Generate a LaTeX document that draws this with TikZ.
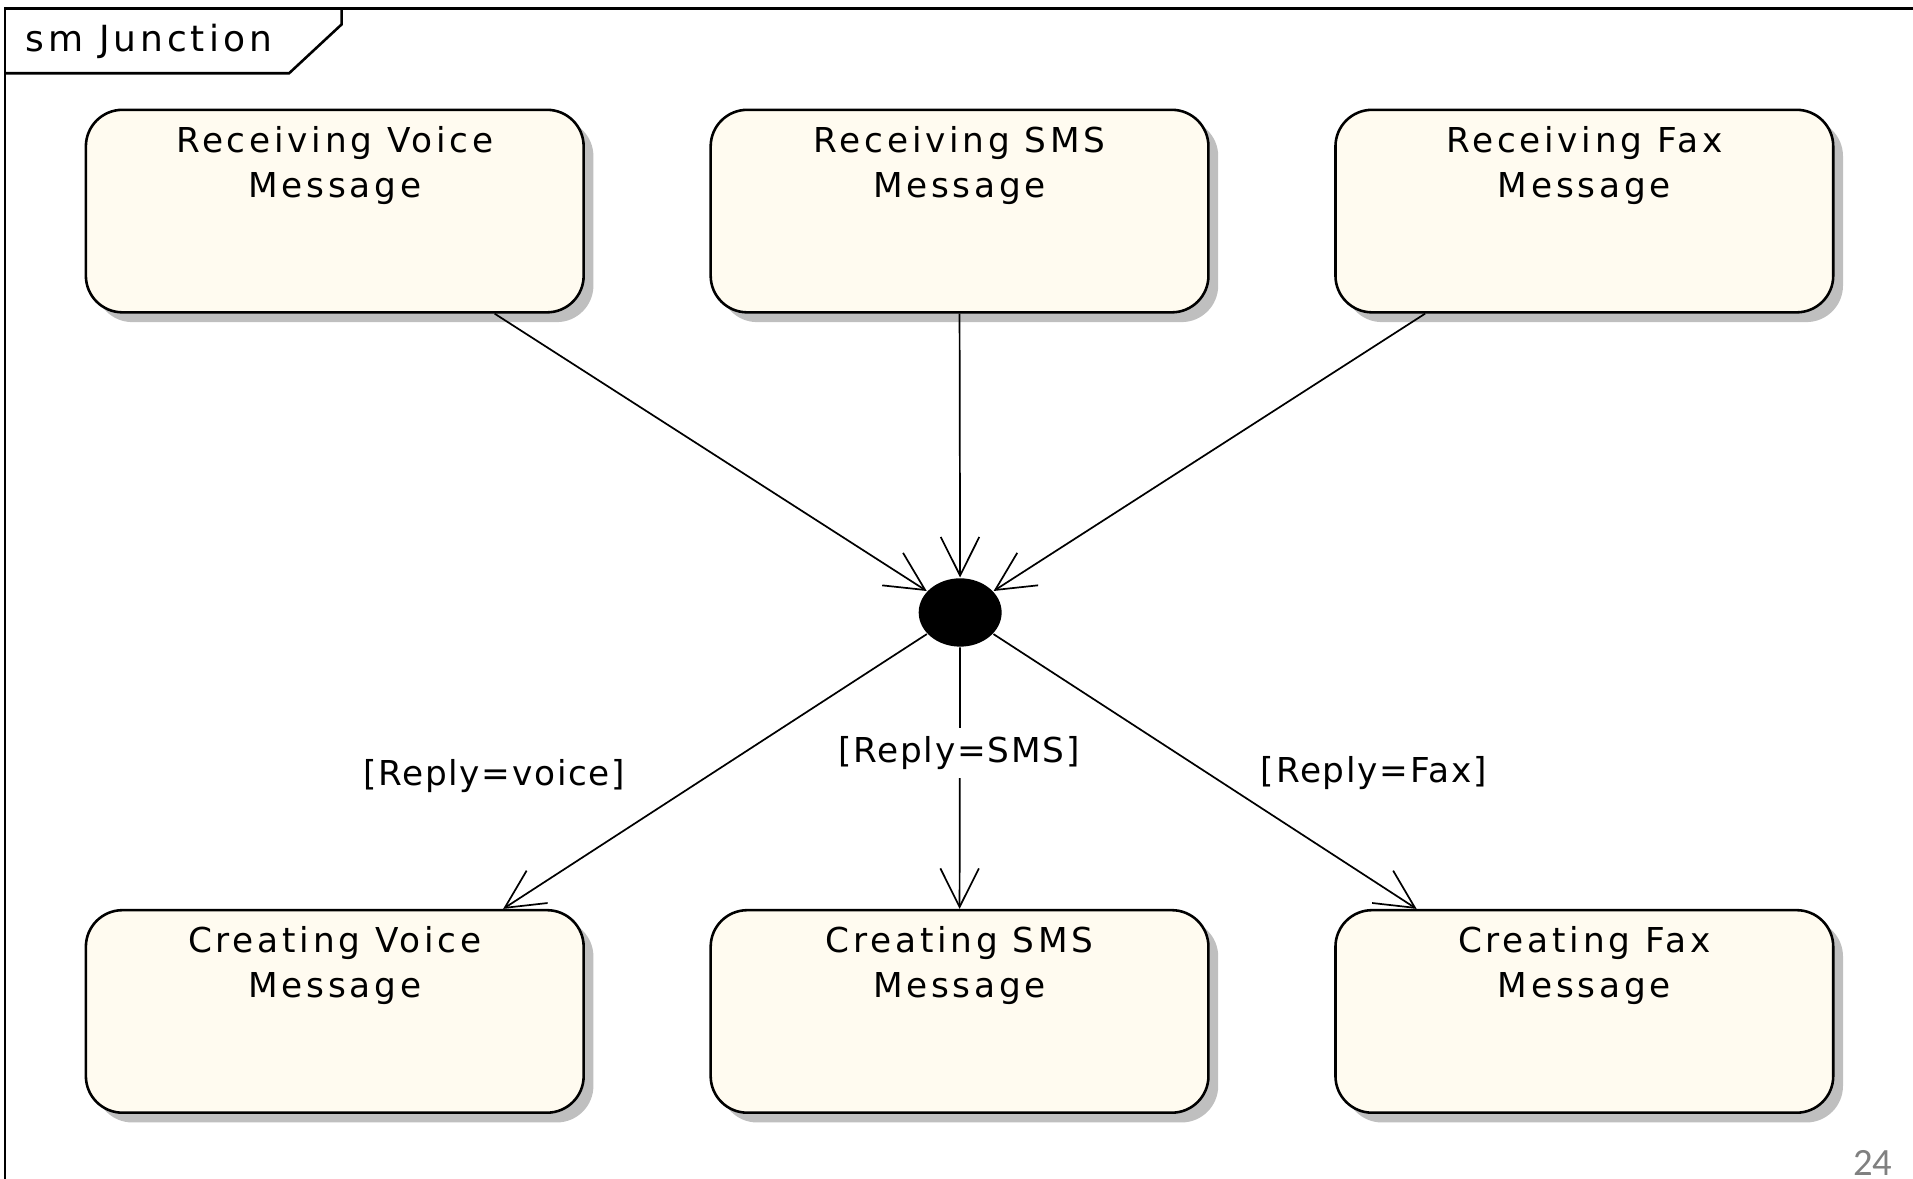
\documentclass[tikz,border=0pt]{standalone}
\usepackage{fontspec}
\usepackage{tikz}
\usetikzlibrary{arrows.meta}
\usetikzlibrary{positioning,shapes.geometric,shadows}
\tikzset{>={Straight Barb[length=9pt,width=9pt]}}
\usepackage{xcolor}
\newfontfamily\umlfont[LetterSpace=11]{DejaVu Sans}
\newfontfamily\guardfont[LetterSpace=5]{DejaVu Sans}
\newfontfamily\slidefont{Carlito}
\definecolor{statefill}{RGB}{255,251,240}
\colorlet{stateshadow}{black!25}

\begin{document}
\begin{tikzpicture}[
    state/.style={draw, line width=0.6pt, fill=statefill, rounded corners=0.3cm,
      minimum width=4.08cm, minimum height=1.66cm, inner sep=0pt,
      drop shadow={shadow xshift=0.08cm, shadow yshift=-0.08cm, fill=stateshadow, opacity=1}},
    statetext/.style={align=center, inner sep=0pt, font=\fontsize{8pt}{10.5pt}\umlfont},
    junction/.style={ellipse, fill=black, minimum width=0.68cm, minimum height=0.56cm, inner sep=0pt},
    trans/.style={->, line width=0.4pt},
    guard/.style={inner sep=2pt, font=\fontsize{8pt}{10pt}\guardfont},
  ]
        \useasboundingbox (0,0) rectangle (15.68,-9.66);

        % FRAME
        \draw[line width=0.6pt] (0.04,-9.66) |- (15.68,-0.07);
        \draw[line width=0.6pt] (0.04,-0.60) -- (2.37,-0.60) -- (2.80,-0.20) -- (2.80,-0.07);
        \node[statetext, font=\fontsize{8.4pt}{10pt}\umlfont] (frame-t) at (1.22,-0.34) {sm Junction};

        % STATES
        \node[state] (rs) at (7.865,-1.73) {};
        \node[state, left=1.02cm of rs] (rv) {};
        \node[state, right=1.02cm of rs] (rf) {};
        \node[state] (cs) at (7.865,-8.29) {};
        \node[state, left=1.02cm of cs] (cv) {};
        \node[state, right=1.02cm of cs] (cf) {};

        \node[statetext, below=0.14cm of rv.north] (rv-t) {Receiving Voice\\Message};
        \node[statetext, below=0.14cm of rs.north] (rs-t) {Receiving SMS\\Message};
        \node[statetext, below=0.14cm of rf.north] (rf-t) {Receiving Fax\\Message};
        \node[statetext, below=0.14cm of cv.north] (cv-t) {Creating Voice\\Message};
        \node[statetext, below=0.14cm of cs.north] (cs-t) {Creating SMS\\Message};
        \node[statetext, below=0.14cm of cf.north] (cf-t) {Creating Fax\\Message};

        % JUNCTION
        \node[junction] (jn) at (7.87,-5.02) {};

        % TRANSITIONS
        \draw[trans] ([xshift=1.31cm]rv.south) -- (jn);
        \draw[trans] (rs.south) -- (jn);
        \draw[trans] ([xshift=-1.305cm]rf.south) -- (jn);
        \draw[trans] (jn) -- ([xshift=1.38cm]cv.north);
        \draw[trans] (jn) -- (cs.north);
        \draw[trans] (jn) -- ([xshift=-1.375cm]cf.north);

        % GUARDS
        \node[guard] (g-voice) at (4.05,-6.36) {[Reply=voice]};
        \node[guard, fill=white] (g-sms) at (7.86,-6.17) {[Reply=SMS]};
        \node[guard] (g-fax) at (11.26,-6.34) {[Reply=Fax]};

        \node[font=\fontsize{9pt}{9pt}\slidefont, text=black!50, inner sep=0pt] (page) at (15.35,-9.53) {24};
\end{tikzpicture}
\end{document}
